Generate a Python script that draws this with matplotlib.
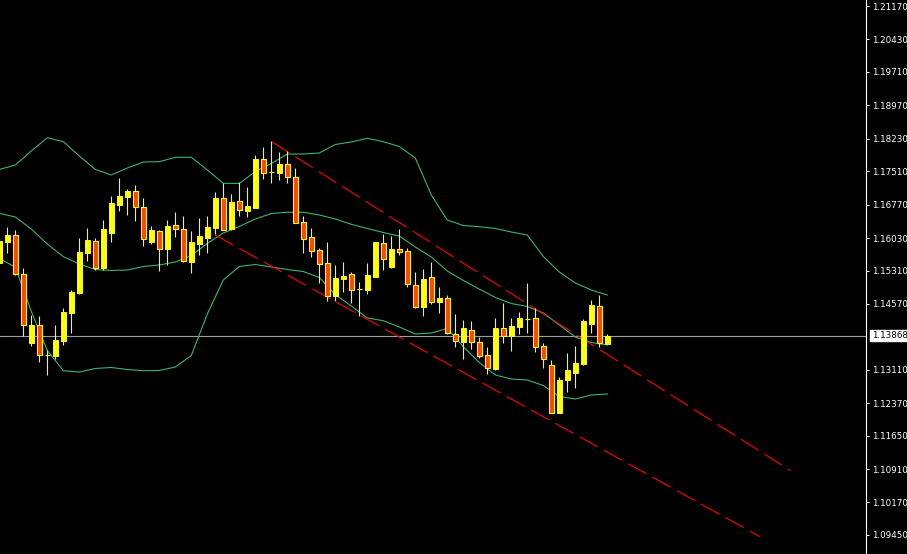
import matplotlib
matplotlib.use("Agg")
import matplotlib.pyplot as plt
from matplotlib.patches import Rectangle

# ---------------- data ----------------
opens = [1.15483, 1.15948, 1.16089, 1.15226, 1.13710, 1.14095, 1.13435, 1.13416, 1.13748, 1.14369,
         1.14805, 1.15698, 1.15964, 1.15358, 1.16147, 1.16768, 1.16945, 1.17072, 1.16716, 1.15948,
         1.16185, 1.15793, 1.16311, 1.16229, 1.15505, 1.15904, 1.16037, 1.16258, 1.16916, 1.16236,
         1.16850, 1.16628, 1.16701, 1.17780, 1.17488, 1.17477, 1.17676, 1.17382, 1.16378, 1.16053,
         1.15764, 1.15476, 1.14752, 1.15122, 1.15233, 1.14896, 1.14878, 1.15173, 1.15913, 1.15388,
         1.15786, 1.15735, 1.14989, 1.14502, 1.15159, 1.14619, 1.14694, 1.13897, 1.13719, 1.13985,
         1.13719, 1.13432, 1.13122, 1.14030, 1.13866, 1.14065, 1.14244, 1.14251, 1.13631, 1.13210,
         1.12160, 1.12884, 1.13033, 1.13239, 1.14131, 1.14524, 1.13682]
closes = [1.15964, 1.16096, 1.15239, 1.14095, 1.14102, 1.13432, 1.13430, 1.13770, 1.14391, 1.14834,
          1.15720, 1.15986, 1.15365, 1.16229, 1.16806, 1.16961, 1.17078, 1.16710, 1.16015, 1.16207,
          1.15793, 1.16296, 1.16223, 1.15527, 1.15935, 1.16074, 1.16274, 1.16916, 1.16214, 1.16834,
          1.16657, 1.16739, 1.17787, 1.17477, 1.17484, 1.17676, 1.17375, 1.16369, 1.16015, 1.15749,
          1.15447, 1.14745, 1.15144, 1.15188, 1.14885, 1.14892, 1.15210, 1.15942, 1.15571, 1.15786,
          1.15727, 1.15005, 1.14508, 1.15115, 1.14619, 1.14694, 1.13919, 1.13741, 1.14030, 1.13719,
          1.13423, 1.13144, 1.14036, 1.13866, 1.14080, 1.14258, 1.14240, 1.13622, 1.13343, 1.12160,
          1.12884, 1.13106, 1.13254, 1.14191, 1.14546, 1.13697, 1.13868]
highs = [1.16053, 1.16273, 1.16207, 1.15365, 1.14324, 1.14308, 1.13549, 1.14102, 1.14479, 1.14878,
         1.16030, 1.16252, 1.16024, 1.16429, 1.16961, 1.17359, 1.17116, 1.17205, 1.16916, 1.16296,
         1.16214, 1.16429, 1.16606, 1.16518, 1.16192, 1.16473, 1.16518, 1.17049, 1.17242, 1.17005,
         1.17271, 1.17160, 1.17876, 1.18053, 1.18172, 1.17936, 1.17964, 1.17581, 1.16518, 1.16252,
         1.15809, 1.15942, 1.15432, 1.15498, 1.15277, 1.15055, 1.15476, 1.15950, 1.16119, 1.16074,
         1.16229, 1.15802, 1.15277, 1.15343, 1.15505, 1.14945, 1.14768, 1.14346, 1.14213, 1.14198,
         1.13830, 1.13609, 1.14258, 1.14583, 1.14258, 1.14391, 1.15027, 1.14479, 1.13710, 1.13327,
         1.12944, 1.13489, 1.13644, 1.14229, 1.14657, 1.14761, 1.13910]
lows = [1.15454, 1.15704, 1.15221, 1.13866, 1.13637, 1.13283, 1.12995, 1.13356, 1.13667, 1.13925,
        1.14789, 1.15527, 1.15321, 1.15321, 1.15942, 1.16628, 1.16539, 1.16413, 1.15853, 1.15904,
        1.15306, 1.15425, 1.16059, 1.15498, 1.15261, 1.15660, 1.15704, 1.16119, 1.16207, 1.16207,
        1.16518, 1.16502, 1.16695, 1.17330, 1.17255, 1.17315, 1.17242, 1.16360, 1.15691, 1.15616,
        1.15027, 1.14641, 1.14635, 1.14834, 1.14597, 1.14302, 1.14796, 1.15165, 1.15321, 1.15365,
        1.15660, 1.14951, 1.14486, 1.14308, 1.14561, 1.14375, 1.13910, 1.13622, 1.13356, 1.13564,
        1.13365, 1.13017, 1.13106, 1.13710, 1.13533, 1.13903, 1.13932, 1.13511, 1.13157, 1.12147,
        1.12155, 1.12625, 1.12713, 1.13223, 1.13932, 1.13622, 1.13675]

# Bollinger bands sampled every second bar
bb_bars = [0, 2, 4, 6, 8, 10, 12, 14, 16, 18, 20, 22, 24, 26, 28, 30, 32, 34, 36, 38,
           40, 42, 44, 46, 48, 50, 52, 54, 56, 58, 60, 62, 64, 66, 68, 70, 72, 74, 76]
bb_upper = [1.17548, 1.17647, 1.17958, 1.18252, 1.18164, 1.17847, 1.17548, 1.17426, 1.17581, 1.17714,
            1.17721, 1.17818, 1.17818, 1.17537, 1.17242, 1.17238, 1.17503, 1.17681, 1.17891, 1.17891,
            1.17913, 1.18102, 1.18157, 1.18239, 1.18164, 1.18057, 1.17803, 1.16983, 1.16429, 1.16307,
            1.16281, 1.16241, 1.16163, 1.16097, 1.15620, 1.15277, 1.15033, 1.14878, 1.14767]
bb_middle = [1.16577, 1.16495, 1.16229, 1.15897, 1.15616, 1.15454, 1.15332, 1.15310, 1.15321, 1.15399,
             1.15432, 1.15498, 1.15642, 1.15908, 1.16141, 1.16285, 1.16451, 1.16573, 1.16600, 1.16600,
             1.16540, 1.16451, 1.16334, 1.16241, 1.16152, 1.16074, 1.15831, 1.15609, 1.15299, 1.15089,
             1.14900, 1.14712, 1.14579, 1.14513, 1.14369, 1.14103, 1.13837, 1.13715, 1.13660]
bb_lower = [1.15576, 1.15388, 1.14402, 1.13538, 1.13090, 1.13061, 1.13139, 1.13161, 1.13117, 1.13090,
            1.13095, 1.13172, 1.13427, 1.14346, 1.15100, 1.15399, 1.15443, 1.15388, 1.15332, 1.15288,
            1.15155, 1.14778, 1.14524, 1.14258, 1.14198, 1.14058, 1.13903, 1.13925, 1.14025, 1.13622,
            1.13272, 1.12995, 1.12906, 1.12884, 1.12762, 1.12519, 1.12463, 1.12552, 1.12574]

# Red dashed channel lines (bar position, price)
chan_upper_bars = [34.05, 98.9]
chan_upper_prices = [1.18164, 1.10875]
chan_lower_bars = [26.96, 95.09]
chan_lower_prices = [1.16097, 1.09412]

current_price = 1.13868
price_ticks = [1.21170, 1.20430, 1.19710, 1.18970, 1.18230, 1.17510, 1.16770, 1.16030,
               1.15310, 1.14570, 1.13110, 1.12370, 1.11650, 1.10910, 1.10170, 1.09450]

# ---------------- style ----------------
BG = "#000000"
BULL = "#FFFF00"
BEAR = "#FF4500"
BAND = "#3CB371"
plt.rcParams["lines.scale_dashes"] = False

fig = plt.figure(figsize=(9.07, 5.54), dpi=100, facecolor=BG)
ax = fig.add_axes([0, 0, 866 / 907, 1])
ax.set_facecolor(BG)

# bands
ax.plot(bb_bars, bb_upper, color=BAND, lw=0.8, zorder=2)
ax.plot(bb_bars, bb_middle, color=BAND, lw=0.8, zorder=2)
ax.plot(bb_bars, bb_lower, color=BAND, lw=0.8, zorder=2)

# current price line
ax.axhline(current_price, color="#A0A0A0", lw=0.8, zorder=1)

# channel
ax.plot(chan_upper_bars, chan_upper_prices, color="#FF0000", lw=0.8,
        dashes=(15, 5), zorder=3)
ax.plot(chan_lower_bars, chan_lower_prices, color="#FF0000", lw=0.8,
        dashes=(15, 5), zorder=3)

# candles
n = len(opens)
bars = list(range(n))
ax.vlines(bars, lows, highs, color=BULL, lw=0.8, zorder=4)
bw = 0.6
for i in bars:
    o, c = opens[i], closes[i]
    bottom = min(o, c)
    h = abs(c - o)
    if c >= o:
        rect = Rectangle((i - bw / 2, bottom), bw, h, facecolor=BULL,
                         edgecolor=BULL, lw=0.7, zorder=5)
    else:
        rect = Rectangle((i - bw / 2, bottom), bw, h, facecolor=BEAR,
                         edgecolor=BULL, lw=0.8, zorder=5)
    ax.add_patch(rect)

ax.set_xlim(0.0875, 108.34)
ax.set_ylim(1.09029, 1.21303)

# axes styling
for s in ["top", "left", "bottom"]:
    ax.spines[s].set_visible(False)
ax.spines["right"].set_color("white")
ax.spines["right"].set_linewidth(0.8)
ax.set_xticks([])
ax.yaxis.tick_right()
ax.set_yticks(price_ticks)
ax.set_yticklabels([f"{v:.5f}" for v in price_ticks])
ax.tick_params(axis="y", colors="white", labelcolor="white", labelsize=6.3,
               length=2.5, width=0.7, pad=2, direction="out")
for lab in ax.get_yticklabels():
    lab.set_family("DejaVu Sans")

# current price label
ax.annotate(f"{current_price:.5f}", xy=(1, current_price), xycoords=("axes fraction", "data"),
            xytext=(4, 0), textcoords="offset points", va="center", ha="left",
            fontsize=6.3, color="black",
            bbox=dict(boxstyle="square,pad=0.15", facecolor="white", edgecolor="white"))

fig.savefig("out.png", dpi=100, facecolor=BG)
